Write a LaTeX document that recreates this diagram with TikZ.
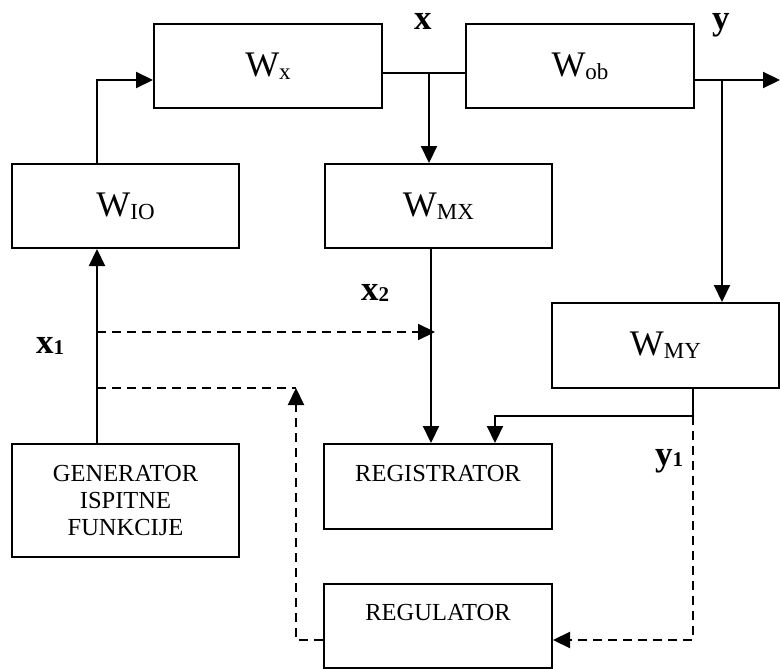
\documentclass[tikz,border=0pt]{standalone}
\usepackage{fontspec}
\setmainfont{Liberation Serif}
\usetikzlibrary{arrows.meta}
\newcommand\Wlab[1]{{\fontsize{36}{36}\selectfont W\raisebox{-3pt}{\fontsize{23}{23}\selectfont #1}}}
\newcommand\siglab[2]{{\bfseries\fontsize{35}{35}\selectfont #1\raisebox{-1pt}{\fontsize{21}{21}\selectfont #2}}}
\begin{document}
\begin{tikzpicture}[x=1pt,y=-1pt,
  blk/.style={draw,line width=2pt,inner sep=0pt,align=center},
  conn/.style={line width=2.2pt},
  arr/.style={-{Triangle[length=17pt,width=16pt]}},
  dsh/.style={line width=2.2pt,dash pattern=on 9pt off 6pt},
  lbl/.style={anchor=base west,inner sep=0pt},
  btext/.style={font=\fontsize{24.5}{27}\selectfont}]
\useasboundingbox (0,0) rectangle (780,669);
% blocks
\node[blk,minimum width=228pt,minimum height=84pt] (wx) at (268,66) {\Wlab{x}};
\node[blk,minimum width=228pt,minimum height=84pt] (wob) at (580,66) {\Wlab{ob}};
\node[blk,minimum width=227pt,minimum height=84pt] (wio) at (125.5,206) {\Wlab{IO}};
\node[blk,minimum width=227pt,minimum height=84pt] (wmx) at (438.5,206) {\Wlab{MX}};
\node[blk,minimum width=227pt,minimum height=85pt] (wmy) at (665.5,345.5) {\Wlab{MY}};
\node[blk,btext,minimum width=227pt,minimum height=113pt] (gen) at (125.5,500.5) {GENERATOR\\ISPITNE\\FUNKCIJE};
\node[blk,btext,minimum width=228pt,minimum height=85pt] (reg) at (438,486.5) {REGISTRATOR\\\mbox{}};
\node[blk,btext,minimum width=228pt,minimum height=84pt] (regul) at (438,626) {REGULATOR\\\mbox{}};
% helper coordinates
\coordinate (xa) at (97,80);
\coordinate (xb) at (429,73);
\coordinate (yb) at (722,80);
\coordinate (yend) at (780,80);
\coordinate (xc) at (431,300);
\coordinate (yc) at (693,416);
\coordinate (yd) at (495,416);
\coordinate (da) at (97,332);
\coordinate (db) at (97,388);
\coordinate (dc) at (296,388);
\coordinate (dd) at (296,640);
\coordinate (ye) at (693,640);
% solid connectors
\draw[conn,arr] (wio.north -| xa) -- (xa) -- (wx.west |- xa);
\draw[conn] (wx.east |- xb) -- (wob.west |- xb);
\draw[conn,arr] (xb) -- (wmx.north -| xb);
\draw[conn,arr] (wob.east |- yb) -- (yend);
\draw[conn,arr] (yb) -- (wmy.north -| yb);
\draw[conn,arr] (wmx.south -| xc) -- (reg.north -| xc);
\draw[conn,arr] (wmy.south -| yc) -- (yc) -- (yd) -- (reg.north -| yd);
\draw[conn,arr] (gen.north -| xa) -- (wio.south -| xa);
% dashed connectors
\draw[dsh,arr] (da) -- ([xshift=4pt]xc |- da);
\draw[dsh] (db) -- (dc);
\draw[dsh,arr] (regul.west |- dd) -- (dd) -- (dc);
\draw[dsh,arr] (yc) -- (ye) -- (regul.east |- ye);
% signal labels
\node[lbl] (lx) at (414,30) {\siglab{x}{}};
\node[lbl] (ly) at (712,30) {\siglab{y}{}};
\node[lbl] (lx2) at (361,300) {\siglab{x}{2}};
\node[lbl] (lx1) at (36,353) {\siglab{x}{1}};
\node[lbl] (ly1) at (655,465) {\siglab{y}{1}};
\end{tikzpicture}
\end{document}
